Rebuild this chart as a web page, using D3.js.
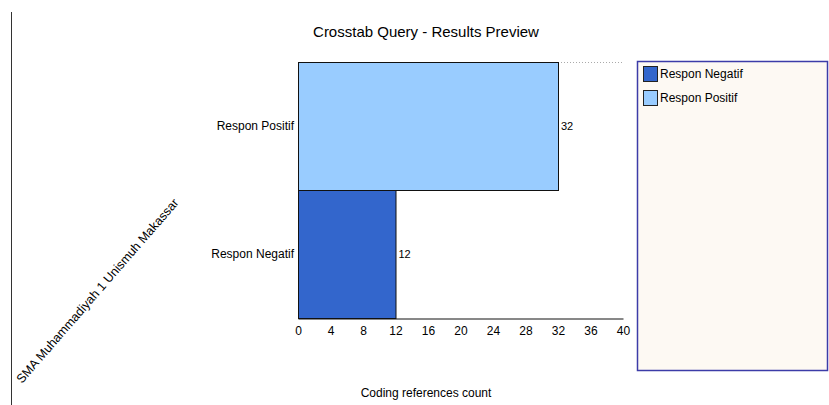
<!DOCTYPE html>
<html>
<head>
<meta charset="utf-8">
<script src="https://cdn.jsdelivr.net/npm/d3@7"></script>
<style>
  body { margin: 0; background: #fff; }
  svg { display: block; font-family: "Liberation Sans", Arial, sans-serif; }
</style>
</head>
<body>
<div id="chart"></div>
<script>
// data
var categories = ['Respon Positif', 'Respon Negatif'];
var counts = [32, 12];
var colors = ['#99ccff', '#3366cc'];
var legendNames = ['Respon Negatif', 'Respon Positif'];
var legendColors = ['#3366cc', '#99ccff'];
var xTicks = [0, 4, 8, 12, 16, 20, 24, 28, 32, 36, 40];
var groupLabel = 'SMA Muhammadiyah 1 Unismuh Makassar';

var W = 829, H = 405;
var margin = {top: 62, left: 298, right: 206, bottom: 87};

var svg = d3.select('#chart').append('svg')
  .attr('width', W)
  .attr('height', H);

// left frame line
svg.append('line')
  .attr('x1', 11.5).attr('x2', 11.5)
  .attr('y1', 12).attr('y2', H)
  .attr('stroke', '#333').attr('stroke-width', 1);

svg.append('text')
  .attr('x', 426).attr('y', 37)
  .attr('text-anchor', 'middle')
  .style('font-size', '15px')
  .attr('fill', '#000')
  .text('Crosstab Query - Results Preview');

var x = d3.scaleLinear()
  .domain([0, 40])
  .range([margin.left, 623]);

var y = d3.scaleBand()
  .domain(categories)
  .range([margin.top, H - margin.bottom])
  .padding(0);

// dotted top guide
svg.append('line')
  .attr('x1', x(counts[0])).attr('x2', x(40))
  .attr('y1', margin.top + 0.5).attr('y2', margin.top + 0.5)
  .attr('stroke', '#aaa')
  .attr('stroke-dasharray', '1,2');

svg.selectAll('rect.bar')
  .data(categories)
  .enter().append('rect')
  .attr('class', 'bar')
  .attr('x', x(0) + 0.5)
  .attr('y', function (d) { return y(d) + 0.5; })
  .attr('width', function (d, i) { return x(counts[i]) - x(0); })
  .attr('height', y.bandwidth())
  .attr('fill', function (d, i) { return colors[i]; })
  .attr('stroke', '#111')
  .attr('stroke-width', 1);

// value labels
svg.selectAll('text.val')
  .data(categories)
  .enter().append('text')
  .attr('class', 'val')
  .attr('x', function (d, i) { return x(counts[i]) + 3; })
  .attr('y', function (d) { return y(d) + y.bandwidth() / 2 + 4; })
  .style('font-size', '11px')
  .attr('fill', '#000')
  .text(function (d, i) { return counts[i]; });

// category labels
svg.selectAll('text.cat')
  .data(categories)
  .enter().append('text')
  .attr('class', 'cat')
  .attr('x', margin.left - 4)
  .attr('y', function (d) { return y(d) + y.bandwidth() / 2 + 4; })
  .attr('text-anchor', 'end')
  .style('font-size', '12px')
  .attr('fill', '#000')
  .text(function (d) { return d; });

// x axis
var xAxis = svg.append('g')
  .attr('transform', 'translate(0,' + (H - margin.bottom + 0.5) + ')')
  .call(d3.axisBottom(x).tickValues(xTicks).tickSize(0).tickPadding(8));
xAxis.select('.domain').attr('stroke', '#111');
xAxis.selectAll('.tick text')
  .style('font-size', '12px')
  .attr('fill', '#000')
  .style('font-family', '"Liberation Sans", Arial, sans-serif');

svg.append('text')
  .attr('x', 426).attr('y', 397)
  .attr('text-anchor', 'middle')
  .style('font-size', '12px')
  .attr('fill', '#000')
  .text('Coding references count');

// rotated group label
svg.append('text')
  .attr('transform', 'translate(22,384) rotate(-49)')
  .style('font-size', '12.5px')
  .attr('fill', '#000')
  .text(groupLabel);

// legend
svg.append('rect')
  .attr('x', 637.5).attr('y', 61.5)
  .attr('width', 190).attr('height', 309)
  .attr('fill', '#fdf9f3')
  .attr('stroke', '#3c3ca8')
  .attr('stroke-width', 1.5);

var leg = svg.selectAll('g.leg')
  .data(legendNames)
  .enter().append('g')
  .attr('class', 'leg')
  .attr('transform', function (d, i) { return 'translate(643,' + (66 + i * 24) + ')'; });

leg.append('rect')
  .attr('x', 0.5).attr('y', 0.5)
  .attr('width', 14).attr('height', 15)
  .attr('fill', function (d, i) { return legendColors[i]; })
  .attr('stroke', '#222');

leg.append('text')
  .attr('x', 17).attr('y', 12)
  .style('font-size', '12px')
  .attr('fill', '#000')
  .text(function (d) { return d; });
</script>
</body>
</html>
